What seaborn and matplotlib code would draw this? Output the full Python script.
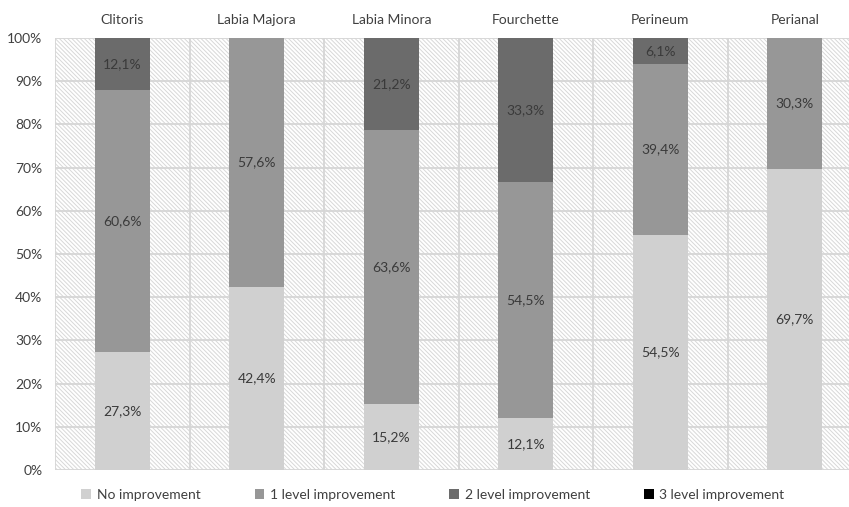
import numpy as np
import pandas as pd
import matplotlib
matplotlib.use("Agg")
import matplotlib.pyplot as plt
from matplotlib.patches import Rectangle, Patch
import seaborn as sns

# Anatomical regions and share of patients per improvement level (%)
regions = ["Clitoris", "Labia Majora", "Labia Minora", "Fourchette", "Perineum", "Perianal"]
no_improvement = [27.3, 42.4, 15.2, 12.1, 54.5, 69.7]
level1 = [60.6, 57.6, 63.6, 54.5, 39.4, 30.3]
level2 = [12.1, 0.0, 21.2, 33.3, 6.1, 0.0]
level3 = [0.0, 0.0, 0.0, 0.0, 0.0, 0.0]
series_names = ["No improvement", "1 level improvement", "2 level improvement", "3 level improvement"]
series_colors = ["#d0d0d0", "#979797", "#6b6b6b", "#000000"]
y_ticks = [0, 10, 20, 30, 40, 50, 60, 70, 80, 90, 100]

sns.set_theme(style="white")
plt.rcParams["font.family"] = ["Lato", "DejaVu Sans"]
plt.rcParams["hatch.linewidth"] = 0.7

series = [no_improvement, level1, level2, level3]
df = pd.DataFrame({"region": regions})
for name, vals in zip(series_names, series):
    df[name] = vals

fig = plt.figure(figsize=(8.49, 5.07), dpi=100)
ax = fig.add_axes([0.0648, 0.073, 0.9352, 0.852])

# hatched plot background
ax.add_patch(Rectangle((0, 0), 1, 1, transform=ax.transAxes, facecolor="white",
                       edgecolor="#d8d8d8", linewidth=0, hatch="\\" * 8, zorder=0))

grid_c = "#d6d6d6"
for y in y_ticks:
    ax.axhline(y, color=grid_c, lw=1.3, zorder=1)
for x in np.arange(-0.5, 5.0, 1.0):
    ax.axvline(x, color=grid_c, lw=1.3, zorder=1)

# stacked bars: draw cumulative totals from the top layer down
cum = np.cumsum(np.array(series), axis=0)
for i in range(len(series) - 1, -1, -1):
    sns.barplot(x=df["region"], y=cum[i], color=series_colors[i], width=0.41,
                saturation=1, linewidth=0, edgecolor="none", zorder=3, ax=ax)

# segment value labels
for j, reg in enumerate(regions):
    bottom = 0.0
    for i, vals in enumerate(series):
        v = vals[j]
        if v > 0:
            txt = f"{v:.1f}".replace(".", ",") + "%"
            ax.text(j, bottom + v / 2, txt, ha="center", va="center",
                    fontsize=10, color="#3a3a3a", zorder=5)
        bottom += v

ax.set_xlim(-0.5, 5.403)
ax.set_ylim(0, 100)
ax.set_yticks(y_ticks)
ax.set_yticklabels([f"{t}%" for t in y_ticks], fontsize=10, color="#404040")
ax.xaxis.tick_top()
ax.set_xticks(range(len(regions)))
ax.set_xticklabels(regions, fontsize=10, color="#404040")
ax.tick_params(axis="both", length=0)
ax.tick_params(axis="x", pad=9)
ax.tick_params(axis="y", pad=9)
ax.set_xlabel("")
ax.set_ylabel("")
for s in ax.spines.values():
    s.set_visible(False)

handles = [Patch(facecolor=c, edgecolor="none") for c in series_colors]
fig.legend(handles, series_names, loc="center", bbox_to_anchor=(0.51, 0.024), ncol=4,
           frameon=False, fontsize=10, handlelength=0.7, handleheight=0.7,
           handletextpad=0.4, columnspacing=3.9, labelcolor="#404040")

fig.savefig("out.png", dpi=100)
